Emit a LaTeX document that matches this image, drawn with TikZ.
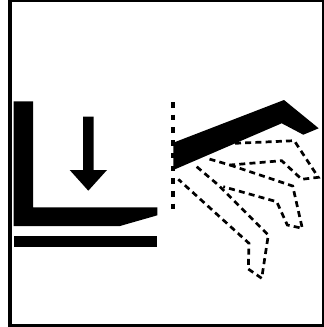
\documentclass[tikz,border=0pt]{standalone}
\begin{document}
\begin{tikzpicture}[x=0.01cm,y=-0.01cm,
  solidpart/.style={fill=black,draw=none},
  fingerline/.style={line width=0.027cm,dash pattern=on 0.06cm off 0.042cm},
  guideline/.style={line width=0.036cm,dash pattern=on 0.056cm off 0.071cm}]
\useasboundingbox (0,0) rectangle (324,327);
\draw[line width=0.032cm] (10,0.8) rectangle (324,325.3);
% jaw and table
\fill[solidpart] (13.7,101.3)--(33,101.3)--(33,207.3)--(157.3,207.3)--(157.3,215.3)--(120,226)--(13.7,226)--cycle;
\fill[solidpart] (13.7,236) rectangle (157.3,246.7);
\fill[solidpart] (83,116.7)--(93.7,116.7)--(93.7,170)--(107,170)--(88.3,190.7)--(69.7,170)--(83,170)--cycle;
% upper blade
\draw[guideline] (173.3,102)--(173.3,211);
\fill[solidpart] (173.3,142.7)--(284,100)--(318.7,128.3)--(303.3,134.7)--(281.7,123.3)--(173.3,170)--cycle;
% dashed outlines
\draw[fingerline] (235,143.3)--(294.3,140.7)--(318.3,177.3)--(301.7,179.3)--(281.7,160.7)--(230,165)--(206.7,158.3);
\draw[fingerline] (230,165)--(292.7,186)--(302.3,228.3)--(287.3,225)--(276.7,201.7)--(223.3,186.7);
\draw[fingerline] (196.7,166.7)--(218.3,185)--(268.3,235)--(261.7,278.3)--(248.3,269)--(249,243.3)--(178.3,179.3);
\end{tikzpicture}
\end{document}
